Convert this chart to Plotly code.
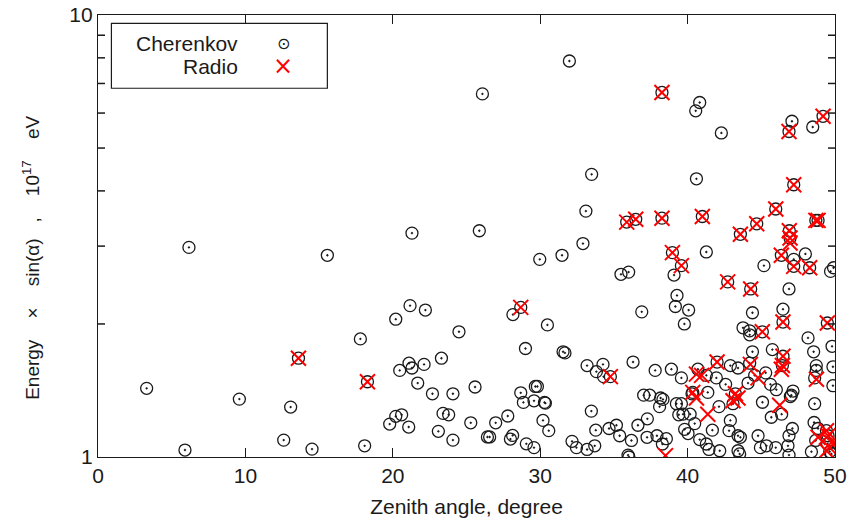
import math
import plotly.graph_objects as go

# Cherenkov detections: zenith angle (deg), energy*sin(alpha) (1e17 eV)
cher_x = [3.30, 5.90, 6.17, 9.59, 12.6, 13.07, 13.6, 14.52, 15.56, 17.8, 18.09, 18.28,
          19.79, 20.2, 20.2, 20.47, 20.6, 21.08, 21.1, 21.17, 21.3, 21.3, 21.69, 22.12,
          22.21, 22.69, 23.09, 23.3, 23.41, 23.79, 24.08, 24.08, 24.49, 25.29, 25.58, 25.87,
          26.08, 26.42, 26.57, 26.98, 27.8, 27.98, 28.13, 28.15, 28.68, 28.68, 28.86, 29.0,
          29.06, 29.58, 29.58, 29.67, 29.81, 29.97, 30.19, 30.29, 30.35, 30.49, 30.58, 31.48,
          31.55, 31.68, 31.98, 32.16, 32.46, 32.9, 33.1, 33.18, 33.18, 33.47, 33.49, 33.7,
          33.77, 33.81, 34.26, 34.3, 34.67, 34.76, 35.17, 35.39, 35.48, 35.87, 35.96, 36.02,
          36.0, 36.19, 36.3, 36.48, 36.63, 36.89, 37.02, 37.25, 37.27, 37.43, 37.8, 37.92,
          38.1, 38.17, 38.26, 38.26, 38.29, 38.33, 38.56, 38.9, 38.97, 39.08, 39.17, 39.4,
          39.28, 39.24, 39.58, 39.58, 39.58, 39.69, 39.78, 39.8, 40.03, 40.07, 40.17, 40.3,
          40.35, 40.48, 40.55, 40.6, 40.7, 40.82, 40.82, 41.0, 41.27, 41.27, 41.27, 41.37,
          41.45, 41.68, 41.95, 42.0, 42.13, 42.18, 42.29, 42.58, 42.72, 42.81, 42.9, 42.9,
          43.08, 43.24, 43.42, 43.42, 43.42, 43.53, 43.58, 43.58, 43.76, 44.1, 44.21, 44.21,
          44.21, 44.28, 44.4, 44.4, 44.55, 44.69, 44.78, 44.94, 45.08, 45.07, 45.18, 45.3,
          45.35, 45.62, 45.68, 45.75, 45.98, 45.98, 46.02, 46.38, 46.36, 46.47, 46.47, 46.47,
          46.43, 46.81, 46.88, 46.88, 46.88, 46.88, 46.9, 46.95, 46.97, 47.04, 47.08, 47.11,
          47.15, 47.2, 47.2, 47.2, 47.99, 48.17, 48.28, 48.4, 48.49, 48.55, 48.58, 48.62,
          48.62, 48.69, 48.73, 48.73, 48.7, 48.85, 48.85, 49.19, 49.42, 49.48, 49.53, 49.64,
          49.7, 49.8, 49.86, 49.86, 49.9, 49.76, 49.5]
cher_y = [1.43, 1.037, 2.98, 1.352, 1.092, 1.297, 1.673, 1.042, 2.86, 1.85, 1.06, 1.48,
          1.187, 1.236, 2.05, 1.57, 1.246, 1.169, 1.63, 2.20, 1.59, 3.21, 1.47, 1.62,
          2.15, 1.39, 1.143, 1.673, 1.255, 1.246, 1.39, 1.092, 1.92, 1.195, 1.44, 3.25,
          6.63, 1.11, 1.11, 1.195, 1.238, 1.098, 1.119, 2.10, 2.18, 1.397, 1.329, 1.76,
          1.071, 1.34, 1.05, 1.444, 1.444, 2.80, 1.21, 1.329, 1.324, 1.99, 1.147, 2.86,
          1.73, 1.72, 7.87, 1.085, 1.05, 3.04, 3.60, 1.61, 1.04, 1.27, 4.36, 1.06,
          1.15, 1.56, 1.62, 1.52, 1.16, 1.52, 1.18, 1.117, 2.59, 3.40, 1.01, 1.0,
          2.62, 1.09, 1.64, 3.45, 1.18, 2.13, 1.38, 1.108, 1.22, 1.38, 1.57, 1.117,
          1.30, 1.36, 3.47, 6.68, 1.07, 1.35, 1.10, 1.58, 2.90, 2.58, 2.19, 1.246,
          2.32, 1.32, 2.71, 1.51, 1.32, 1.25, 2.00, 1.155, 1.13, 2.15, 1.25, 1.39,
          1.40, 1.19, 6.07, 4.26, 1.58, 6.34, 1.095, 3.50, 2.91, 1.53, 1.07, 1.40,
          1.04, 1.15, 1.51, 1.64, 1.30, 1.033, 5.41, 1.46, 2.49, 1.147, 1.61, 1.21,
          1.32, 1.39, 1.59, 1.117, 1.033, 1.016, 1.108, 3.19, 1.96, 1.47, 1.93, 1.89,
          1.63, 2.40, 2.12, 1.73, 1.53, 3.37, 1.117, 1.05, 1.33, 1.92, 2.71, 1.55,
          1.06, 1.46, 1.23, 1.75, 3.64, 1.05, 1.42, 1.25, 2.86, 2.16, 2.02, 1.69,
          1.61, 1.06, 1.01, 1.117, 2.40, 5.45, 3.25, 3.13, 1.37, 1.38, 5.75, 1.16,
          1.41, 4.13, 2.80, 2.70, 2.88, 1.86, 2.68, 1.028, 5.58, 1.73, 1.197, 1.51,
          1.32, 1.09, 1.61, 1.57, 3.43, 1.16, 3.43, 5.90, 1.147, 2.01, 1.117, 1.028,
          2.63, 1.78, 1.60, 1.45, 2.68, 1.016, 1.07]

# Radio detections
radio_x = [13.6, 18.28, 28.68, 34.76, 35.87, 36.48, 38.26, 38.26, 41.0, 38.97, 39.58, 38.5,
           40.6, 40.95, 40.35, 40.6, 41.37, 42.0, 42.72, 43.58, 44.69, 44.28, 45.98, 45.07,
           43.24, 43.42, 43.08, 44.26, 44.78, 46.25, 46.47, 46.43, 46.36, 46.47, 46.36, 46.88,
           47.2, 46.9, 46.95, 46.95, 47.2, 48.28, 48.7, 48.85, 49.19, 49.48, 48.74, 48.85,
           49.42, 49.53, 49.76, 49.64, 49.42]
radio_y = [1.673, 1.48, 2.18, 1.52, 3.40, 3.45, 3.47, 6.68, 3.50, 2.90, 2.71, 1.007,
           1.54, 1.53, 1.40, 1.36, 1.25, 1.64, 2.49, 3.19, 3.37, 2.40, 3.64, 1.92,
           1.39, 1.36, 1.34, 1.62, 1.51, 1.31, 1.69, 1.61, 1.58, 2.02, 2.86, 5.45,
           4.13, 3.25, 3.13, 3.05, 2.70, 2.68, 3.43, 3.43, 5.90, 2.01, 1.50, 1.108,
           1.147, 1.117, 1.079, 1.05, 1.033]

series_names = ["Cherenkov", "Radio"]
y_range_decades = [0, 1]          # log10 of the y range 1 .. 10
y_major_ticks = [1, 10]
y_major_text = ["1", "10"]
y_minor_ticks = [2, 3, 4, 5, 6, 7, 8, 9]
x_tick_vals = [0, 10, 20, 30, 40, 50]

FONT = "Liberation Sans, Arial, Helvetica, sans-serif"
INK = "#1a1a1a"
RED = "#ff0000"
PLOT_W = 853 - 98 - 18  # plot-area width in px, used for tick lengths in paper units

fig = go.Figure()
fig.add_trace(go.Scatter(
    x=cher_x, y=cher_y, mode="markers", name=series_names[0],
    marker=dict(symbol="circle-open-dot", size=12, color=INK,
                line=dict(width=1.3, color=INK)),
))
fig.add_trace(go.Scatter(
    x=radio_x, y=radio_y, mode="markers", name=series_names[1],
    marker=dict(symbol="x-thin-open", size=15, color=RED,
                line=dict(width=2, color=RED)),
))

# minor y ticks (inside, on the left border and mirrored on the right border),
# placed at their fractional position along the log axis
tl = 7 / PLOT_W
lo, hi = y_range_decades
for v in y_minor_ticks:
    frac = (math.log10(v) - lo) / (hi - lo)
    for xa, xb in ((0, tl), (1 - tl, 1)):
        fig.add_shape(type="line", xref="paper", yref="paper", x0=xa, x1=xb,
                      y0=frac, y1=frac, line=dict(color=INK, width=1.5), layer="above")

# gnuplot-style key: label on the left, sample symbol on the right, boxed
fig.add_shape(type="rect", xref="paper", yref="paper",
              x0=0.0182, x1=0.3112, y0=0.8343, y1=0.9812,
              line=dict(color=INK, width=1.2), fillcolor="white", layer="above")
key_rows = [0.9355, 0.8835]
for name, yk in zip(series_names, key_rows):
    fig.add_annotation(xref="paper", yref="paper", x=0.1925, y=yk,
                       xanchor="right", yanchor="middle", showarrow=False,
                       text=name, font=dict(family=FONT, size=21, color=INK))
fig.add_annotation(xref="paper", yref="paper", x=0.2515, y=key_rows[0],
                   xanchor="center", yanchor="middle", showarrow=False,
                   text="\u2299", font=dict(family="DejaVu Sans", size=16, color=INK))
fig.add_annotation(xref="paper", yref="paper", x=0.2515, y=key_rows[1],
                   xanchor="center", yanchor="middle", showarrow=False,
                   text="\u00d7", font=dict(family="DejaVu Sans", size=24, color=RED))

# y-axis title (gnuplot places it slightly below the axis centre, widely spaced)
sp = "\u00a0"
fig.add_annotation(xref="paper", yref="paper", x=-0.092, y=0.451,
                   xanchor="center", yanchor="middle", showarrow=False, textangle=-90,
                   text=f"Energy{sp*4}×{sp*4}sin(α){sp*3},{sp*4}10<sup>17</sup>{sp*4}eV",
                   font=dict(family=FONT, size=19, color=INK))

fig.update_layout(
    width=853, height=524,
    margin=dict(l=98, r=18, t=15, b=67),
    paper_bgcolor="white", plot_bgcolor="white",
    font=dict(family=FONT, size=21, color=INK),
    showlegend=False,
    xaxis=dict(
        range=[0, 50], tickmode="array", tickvals=x_tick_vals, automargin=False,
        ticks="inside", ticklen=9, tickwidth=1, tickcolor=INK,
        showline=True, linecolor=INK, linewidth=1.3, mirror="allticks",
        showgrid=False, zeroline=False,
        title=dict(text="Zenith angle, degree", standoff=12, font=dict(size=21)),
        tickfont=dict(size=21),
    ),
    yaxis=dict(
        type="log", range=y_range_decades, tickmode="array", tickvals=y_major_ticks,
        ticktext=y_major_text, automargin=False,
        ticks="inside", ticklen=9, tickwidth=1, tickcolor=INK,
        showline=True, linecolor=INK, linewidth=1.3, mirror="allticks",
        showgrid=False, zeroline=False, tickfont=dict(size=21),
    ),
)

fig.write_html("out.html")
